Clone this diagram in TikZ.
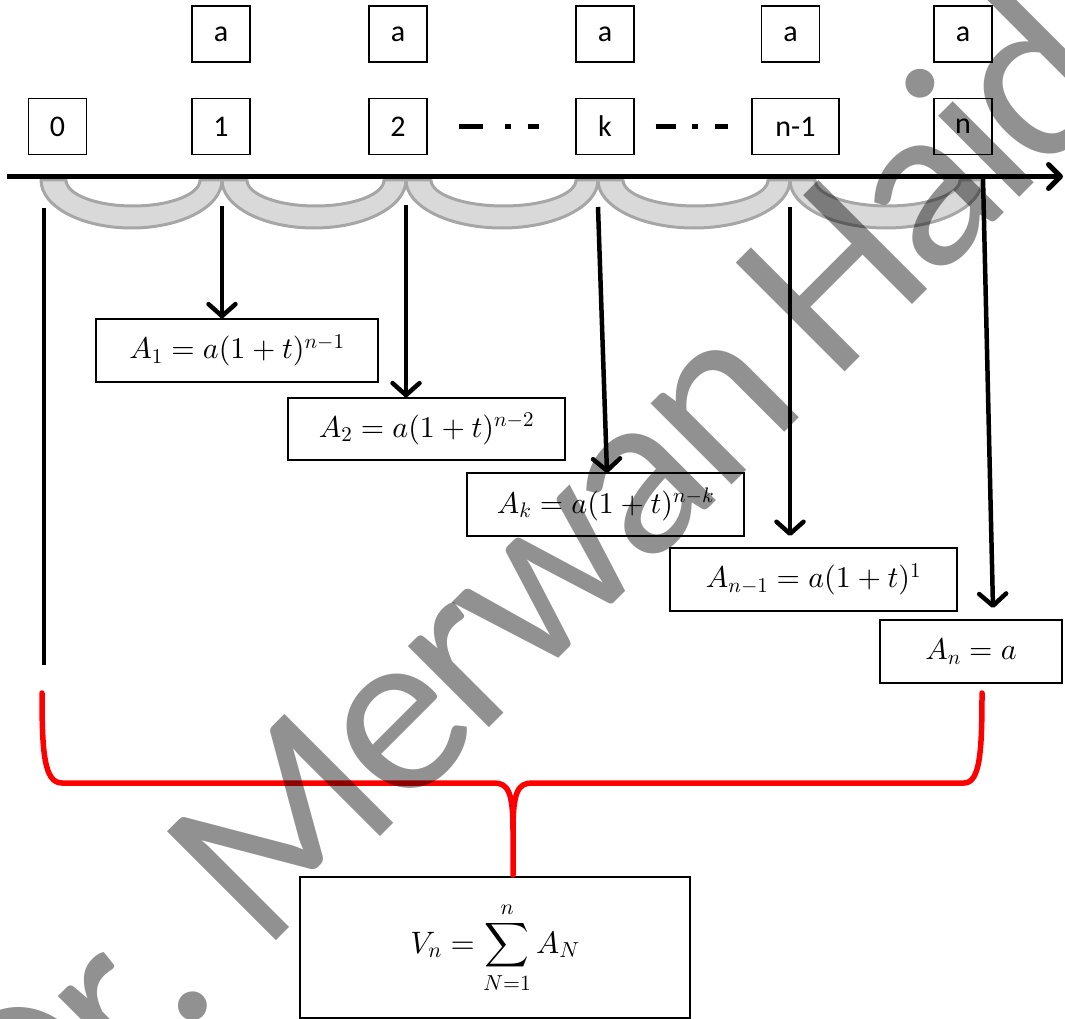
\documentclass[tikz,border=0pt]{standalone}
\usepackage[no-math]{fontspec}
\setmainfont{Carlito}
\DeclareFontFamily{OML}{cmm}{\skewchar\font'177}
\DeclareFontShape{OML}{cmm}{m}{it}{<->cmmi10}{}
\DeclareFontFamily{OMS}{cmsy}{\skewchar\font'60}
\DeclareFontShape{OMS}{cmsy}{m}{n}{<->cmsy10}{}
\DeclareFontFamily{OMX}{cmex}{}
\DeclareFontShape{OMX}{cmex}{m}{n}{<->cmex10}{}
\DeclareFontShape{OT1}{cmr}{m}{n}{<->cmr10}{}
\newcommand\wmk{\kern-9.6pt\relax}
\usetikzlibrary{arrows.meta}
\begin{document}
\begin{tikzpicture}[x=1pt,y=-1pt,
  lbl/.style={draw=black, line width=1.3pt, minimum width=58pt, minimum height=56pt, inner sep=0pt, font=\fontsize{30}{30}\selectfont},
  fbox/.style={draw=black, line width=1.3pt, inner sep=0pt, font=\fontsize{30}{36}\selectfont},
  scal/.style={draw={rgb,255:red,166;green,166;blue,166}, fill={rgb,255:red,217;green,217;blue,217}, line width=3pt, line join=round},
  vline/.style={line width=4.5pt},
  arr/.style={line width=4.5pt, -{Straight Barb[length=12pt,width=27pt,round]}},
  dotline/.style={line width=5.5pt},
  brace/.style={draw=red, line width=5.5pt, line cap=round, line join=round},
  wmark/.style={rotate=45, anchor=base west, inner sep=0pt, text=black, text opacity=0.43, font=\fontsize{240}{240}\selectfont}]
\useasboundingbox (0,0) rectangle (1065,1019);

% scallops under the axis
\foreach \a/\b in {41/222, 222/406, 406/598, 598/790, 790/982} {
  \pgfmathsetmacro\rx{(\b-\a)/2}
  \pgfmathsetmacro\ri{(\b-\a-47)/2}
  \filldraw[scal] (\a,180) arc[start angle=180, end angle=0, x radius=\rx, y radius=48]
     -- (\b-22,180) arc[start angle=0, end angle=180, x radius=\ri, y radius=26] -- cycle;
}

% axis
\coordinate (axL) at (7,176.5);
\coordinate (axR) at (1063,176.5);
\draw[line width=5pt, -{Straight Barb[length=12pt,width=24pt,round]}] (axL) -- (axR);

% top boxes
\node[lbl] (a1) at (221,34) {a};
\node[lbl] (a2) at (398,34) {a};
\node[lbl] (a3) at (605,34) {a};
\node[lbl] (a4) at (790.5,34) {a};
\node[lbl] (a5) at (963,34) {a};

% period boxes
\node[lbl] (t0) at (57.5,126.5) {0};
\node[lbl] (t1) at (221,126.5) {1};
\node[lbl] (t2) at (398,126.5) {2};
\node[lbl] (tk) at (605,126.5) {k};
\node[lbl, minimum width=87pt] (tn1) at (795.5,126.5) {n-1};
\node[lbl] (tn) at (963,126.5) {n};

% dash-dot connectors between period boxes
\draw[dotline, dash pattern=on 24pt off 22pt on 6pt off 17pt on 13pt off 20pt, shorten <=31pt, shorten >=36pt] (t2.east) -- (tk.west);
\draw[dotline, dash pattern=on 20pt off 16pt on 6pt off 17pt on 15pt off 20pt, shorten <=21pt, shorten >=23pt] (tk.east) -- (tn1.west);

% formula boxes
\node[fbox, minimum width=282pt, minimum height=63pt] (A1) at (237,350.5) {$A_1 = a(1+t)^{n-1}$};
\node[fbox, minimum width=277pt, minimum height=62pt] (A2) at (426.5,429) {$A_2 = a(1+t)^{n-2}$};
\node[fbox, minimum width=277pt, minimum height=63pt] (Ak) at (605.5,504.5) {$A_k = a(1+t)^{n-k}$};
\node[fbox, minimum width=287pt, minimum height=63pt] (An1) at (813.5,579.5) {$A_{n-1} = a(1+t)^{1}$};
\node[fbox, minimum width=182pt, minimum height=63pt] (An) at (971,651.5) {$A_n = a$};
\node[fbox, minimum width=390pt, minimum height=141pt, font=\fontsize{31}{36}\selectfont] (V) at (495,947.5) {$\displaystyle V_n = \sum_{N=1}^{n} A_N$};

% vertical lines and arrows
\coordinate (s0) at (44,208);
\coordinate (e0) at (44,665);
\draw[vline] (s0) -- (e0);
\coordinate (s1) at (222,206);
\draw[arr] (s1) -- (s1 |- A1.north);
\coordinate (s2) at (406,205);
\draw[arr] (s2) -- (s2 |- A2.north);
\coordinate (sk) at (598,207);
\coordinate (ek) at (607,473);
\draw[arr] (sk) -- (ek);
\coordinate (sn1) at (790,207);
\coordinate (en1) at (790,536);
\draw[arr] (sn1) -- (en1);
\coordinate (sn) at (983,178);
\coordinate (en) at (993,608);
\draw[arr] (sn) -- (en);

% red brace
\coordinate (bl) at (42,693);
\coordinate (br) at (982,693);
\coordinate (bm) at (513,875);
\draw[brace] (bl) .. controls (42,752) and (44,783) .. (62,783) -- (494,783)
   .. controls (508,783) and (513,792) .. (513,830) -- (bm);
\draw[brace] (513,830) .. controls (513,792) and (518,783) .. (532,783) -- (964,783)
   .. controls (980,783) and (982,752) .. (br);

% watermark
\node[wmark] (wm) at (30.8,1186.2) {D\wmk r\wmk .\wmk\ \kern10.4pt M\wmk e\wmk r\wmk w\wmk a\wmk n\wmk\ \wmk H\wmk a\wmk i\wmk d};
\end{tikzpicture}
\end{document}
